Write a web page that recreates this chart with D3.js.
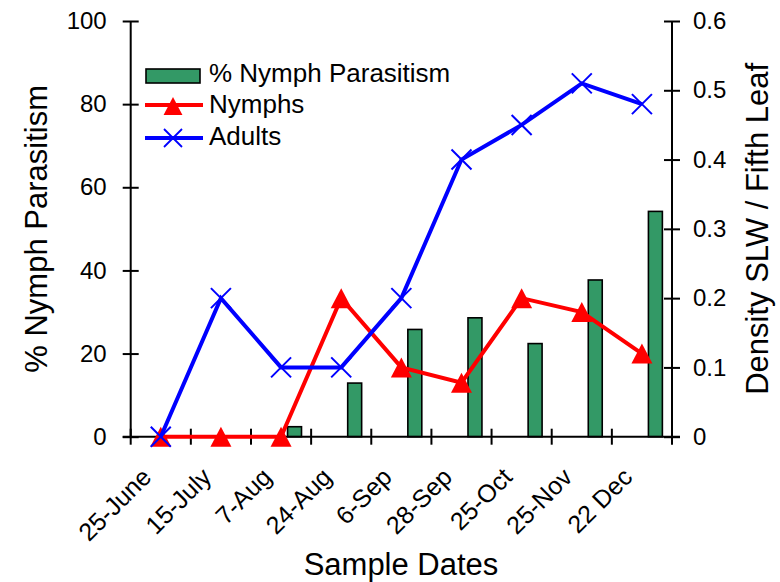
<!DOCTYPE html>
<html>
<head>
<meta charset="utf-8">
<script src="https://cdn.jsdelivr.net/npm/d3@7/dist/d3.min.js"></script>
<style>
  html, body { margin: 0; padding: 0; background: #fff; }
  svg { display: block; font-family: "Liberation Sans", Arial, sans-serif; }
</style>
</head>
<body>
<svg id="chart" width="780" height="582"></svg>
<script>
// Sample dates and the three measured series
const categories = ["25-June", "15-July", "7-Aug", "24-Aug", "6-Sep", "28-Sep", "25-Oct", "25-Nov", "22 Dec"];
const parasitism = [0, 0, 2.4, 12.9, 25.8, 28.6, 22.4, 37.7, 54.2];     // % nymph parasitism (left axis)
const nymphs     = [0, 0, 0, 0.2, 0.1, 0.078, 0.2, 0.18, 0.12];          // density per fifth leaf (right axis)
const adults     = [0, 0.2, 0.1, 0.1, 0.2, 0.4, 0.45, 0.51, 0.48];       // density per fifth leaf (right axis)
const leftTicks  = [0, 20, 40, 60, 80, 100];
const rightTicks = [0, 0.1, 0.2, 0.3, 0.4, 0.5, 0.6];
const rightTickLabels = ["0", "0.1", "0.2", "0.3", "0.4", "0.5", "0.6"];

const svg = d3.select("#chart");
const plotLeft = 130.7, plotRight = 672, plotTop = 21, plotBottom = 436.7;

const x = d3.scaleBand().domain(categories).range([plotLeft, plotRight]).padding(0);
const yL = d3.scaleLinear().domain([0, 100]).range([plotBottom, plotTop]);
const yR = d3.scaleLinear().domain([0, 0.6]).range([plotBottom, plotTop]);
const cx = c => x(c) + x.bandwidth() / 2;

const GREEN = "#339966", RED = "#ff0000", BLUE = "#0000ff";

// Bars: % nymph parasitism, sitting just right of each date's centre
const bw = x.bandwidth();
svg.append("g").selectAll("rect").data(categories).join("rect")
  .attr("x", c => cx(c) + bw * 0.108)
  .attr("width", bw * 0.232)
  .attr("y", (c, i) => yL(parasitism[i]))
  .attr("height", (c, i) => yL(0) - yL(parasitism[i]))
  .attr("fill", GREEN)
  .attr("stroke", "#000")
  .attr("stroke-width", 1.6);

// Left axis
const gL = svg.append("g").attr("transform", `translate(${plotLeft},0)`)
  .call(d3.axisLeft(yL).tickValues(leftTicks).tickSize(8).tickPadding(16).tickFormat(d3.format("d")));
// Right axis
const gR = svg.append("g").attr("transform", `translate(${plotRight},0)`)
  .call(d3.axisRight(yR).tickValues(rightTicks).tickSize(8).tickPadding(13)
    .tickFormat((d, i) => rightTickLabels[i]));
// Bottom axis: labels at the date centres, ticks on the category boundaries
const gB = svg.append("g").attr("transform", `translate(0,${plotBottom})`)
  .call(d3.axisBottom(x).tickSize(0).tickPadding(0));

[gL, gR, gB].forEach(g => {
  g.select(".domain").attr("stroke", "#000").attr("stroke-width", 2);
  g.selectAll(".tick line").attr("stroke", "#000").attr("stroke-width", 2);
  g.selectAll("text").attr("fill", "#000").attr("font-size", 24)
    .attr("font-family", "'Liberation Sans', Arial, sans-serif");
});
gL.selectAll(".tick line").attr("x1", 8);
gR.selectAll(".tick line").attr("x1", -8);
gL.select(".domain").attr("d", `M0,${plotTop}V${plotBottom}`);
gR.select(".domain").attr("d", `M0,${plotTop}V${plotBottom}`);
gB.select(".domain").attr("d", `M${plotLeft - 8},0H${plotRight + 8}`);

const boundaries = categories.map(c => x(c)).concat([x.range()[1]]);
gB.selectAll(".bound").data(boundaries).join("line")
  .attr("class", "bound")
  .attr("x1", d => d).attr("x2", d => d)
  .attr("y1", -8).attr("y2", 8)
  .attr("stroke", "#000").attr("stroke-width", 2);

gB.selectAll(".tick text")
  .attr("text-anchor", "end")
  .attr("font-size", 25)
  .attr("dy", 0)
  .attr("y", 0)
  .attr("transform", "translate(-8,42) rotate(-45)");

// Nymphs line with triangle markers
const lineR = d3.line().x((d, i) => cx(categories[i])).y(d => yR(d));
svg.append("path").datum(nymphs)
  .attr("d", lineR).attr("fill", "none")
  .attr("stroke", RED).attr("stroke-width", 4).attr("stroke-linejoin", "miter");
const tri = "M0,-10L10.5,10L-10.5,10Z";
svg.append("g").selectAll("path").data(nymphs).join("path")
  .attr("d", tri)
  .attr("transform", (d, i) => `translate(${cx(categories[i])},${yR(d)})`)
  .attr("fill", RED);

// Adults line with cross markers
svg.append("path").datum(adults)
  .attr("d", lineR).attr("fill", "none")
  .attr("stroke", BLUE).attr("stroke-width", 4).attr("stroke-linejoin", "miter");
const cross = "M-10,-10L10,10M-10,10L10,-10";
svg.append("g").selectAll("path").data(adults).join("path")
  .attr("d", cross)
  .attr("transform", (d, i) => `translate(${cx(categories[i])},${yR(d)})`)
  .attr("fill", "none").attr("stroke", BLUE).attr("stroke-width", 2);

// Legend
const legend = svg.append("g").attr("font-size", 26).attr("fill", "#000");
legend.append("rect").attr("x", 146).attr("y", 69).attr("width", 54).attr("height", 14)
  .attr("fill", GREEN).attr("stroke", "#000").attr("stroke-width", 1.6);
legend.append("text").attr("x", 209).attr("y", 82).text("% Nymph Parasitism");
legend.append("line").attr("x1", 145).attr("x2", 203).attr("y1", 105).attr("y2", 105)
  .attr("stroke", RED).attr("stroke-width", 4);
legend.append("path").attr("d", tri).attr("transform", "translate(173,106) scale(0.9)").attr("fill", RED);
legend.append("text").attr("x", 209).attr("y", 113).text("Nymphs");
legend.append("line").attr("x1", 145).attr("x2", 203).attr("y1", 138).attr("y2", 138)
  .attr("stroke", BLUE).attr("stroke-width", 4);
legend.append("path").attr("d", cross).attr("transform", "translate(173,138) scale(0.9)")
  .attr("fill", "none").attr("stroke", BLUE).attr("stroke-width", 2);
legend.append("text").attr("x", 209).attr("y", 145).text("Adults");

// Axis titles
svg.append("text").attr("x", 401).attr("y", 575).attr("text-anchor", "middle")
  .attr("font-size", 31).text("Sample Dates");
svg.append("text").attr("transform", `translate(47,${(plotTop + plotBottom) / 2}) rotate(-90)`)
  .attr("text-anchor", "middle").attr("font-size", 31).text("% Nymph Parasitism");
svg.append("text").attr("transform", `translate(768,${(plotTop + plotBottom) / 2}) rotate(-90)`)
  .attr("text-anchor", "middle").attr("font-size", 31).text("Density SLW / Fifth Leaf");
</script>
</body>
</html>
